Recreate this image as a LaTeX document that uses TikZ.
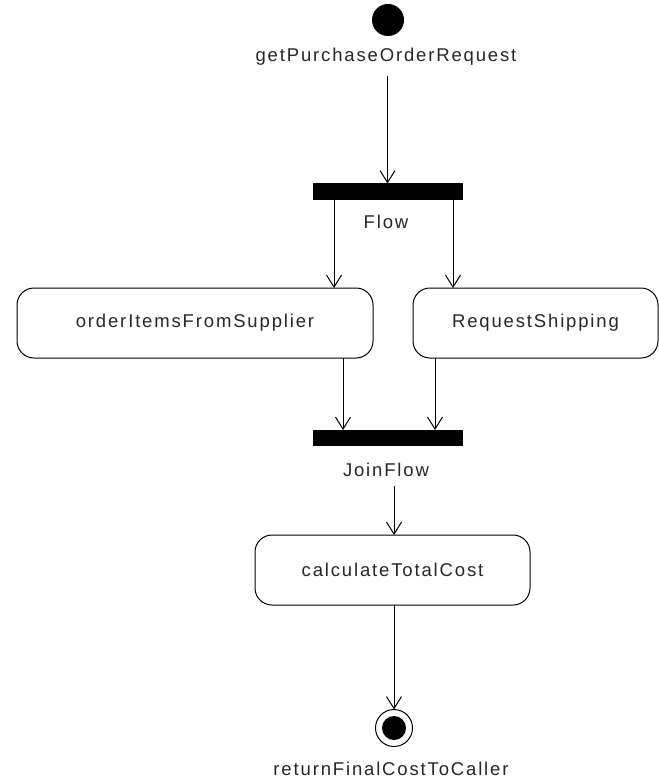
\documentclass[tikz,border=0pt]{standalone}
\usepackage{fontspec}
\setmainfont{Liberation Sans}[LetterSpace=10]
\usetikzlibrary{arrows.meta}
\begin{document}
\begin{tikzpicture}[x=1pt,y=-1pt,
  every node/.style={inner sep=0pt, outer sep=0pt},
  lbl/.style={font=\fontsize{18.5}{21}\selectfont, text=black!85},
  action/.style={draw, line width=1pt, rounded corners=17pt, minimum height=70pt, lbl},
  bar/.style={fill=black, draw=black, minimum width=149pt},
  arr/.style={line width=1pt, -{Straight Barb[length=12pt, width=15pt, line width=1pt]}}
]
\useasboundingbox (0,0) rectangle (658,778);

% initial state and its label
\node[circle, fill=black, minimum size=32pt] (init) at (388,20) {};
\node[lbl] (initlabel) at (386,57) {getPurchaseOrderRequest};

% fork bar
\node[bar, minimum height=16pt] (fork) at (387.5,191.5) {};
\node[lbl] (forklabel) at (386,222) {Flow};

% parallel actions
\node[action, minimum width=356pt] (order) at (195,323) {orderItemsFromSupplier};
\node[action, minimum width=245pt] (ship) at (535.5,323) {RequestShipping};

% join bar
\node[bar, minimum height=15pt] (join) at (387.5,437.5) {};
\node[lbl] (joinlabel) at (386,470) {JoinFlow};

% final action
\node[action, minimum width=275pt] (calc) at (392.5,570) {calculateTotalCost};

% final state and its label
\node[circle, draw, line width=1pt, minimum size=37pt] (final) at (394,728) {};
\node[circle, fill=black, minimum size=24pt] (finalcore) at (final.center) {};
\node[lbl] (finallabel) at (391,769) {returnFinalCostToCaller};

% transitions
\draw[arr] ([yshift=-10pt]initlabel.south -| fork.north) -- (fork.north);
\draw[arr] ([xshift=-53.5pt]fork.south) -- ([xshift=-53.5pt]fork.south |- order.north);
\draw[arr] ([xshift=65.5pt]fork.south) -- ([xshift=65.5pt]fork.south |- ship.north);
\draw[arr] ([xshift=-44.5pt]join.north |- order.south) -- ([xshift=-44.5pt]join.north);
\draw[arr] ([xshift=47.5pt]join.north |- ship.south) -- ([xshift=47.5pt]join.north);
\draw[arr] ([yshift=-9pt]joinlabel.south -| final.north) -- (final.north |- calc.north);
\draw[arr] (final.north |- calc.south) -- (final.north);
\end{tikzpicture}
\end{document}
